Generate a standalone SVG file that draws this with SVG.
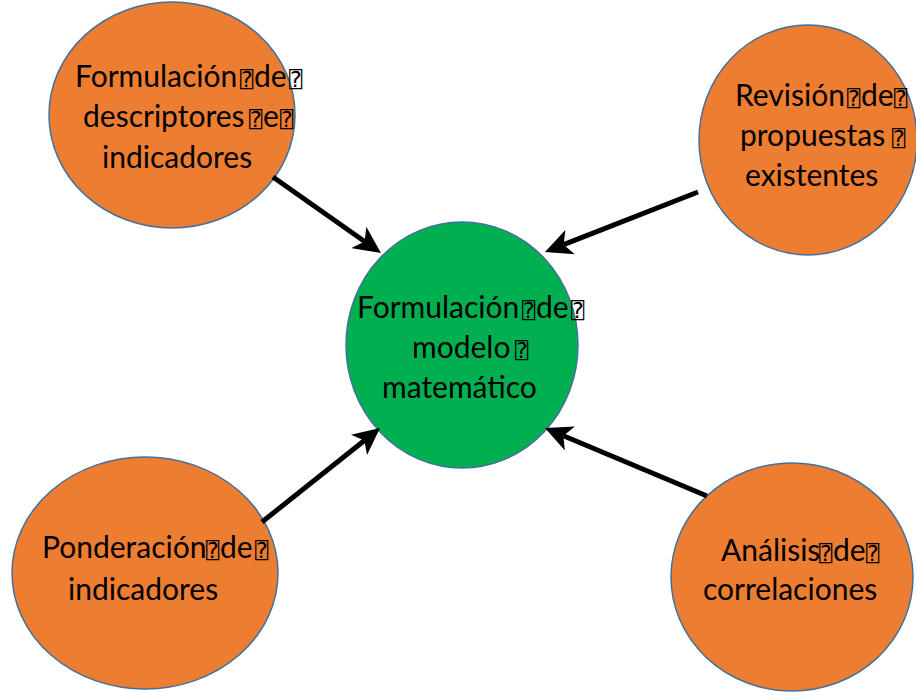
<svg xmlns="http://www.w3.org/2000/svg" width="916" height="692" viewBox="0 0 916 692">
  <style>
    .bubble { fill: #ED7D31; stroke: #41719C; stroke-width: 1.5; }
    .core { fill: #00B050; stroke: #41719C; stroke-width: 1.5; }
    .label { font-family: Lato, "Liberation Sans", sans-serif; font-size: 30px; fill: #000; }
    .q { font-family: "DejaVu Sans Mono", "DejaVu Sans", monospace; font-size: 22px; }
    .link { fill: none; stroke: #000; stroke-width: 5; }
  </style>
  <defs>
    <marker id="head" markerUnits="userSpaceOnUse" viewBox="0 0 27 26" markerWidth="27" markerHeight="26" refX="7" refY="13" orient="auto">
      <path d="M0,0 L27,13 L0,26 L7,13 Z" fill="#000"/>
    </marker>
  </defs>
  <rect width="916" height="692" fill="#fff"/>

  <g id="node-descriptores">
    <ellipse class="bubble" cx="172" cy="115" rx="123" ry="113"/>
    <text class="label" y="87"><tspan x="75">Formulación</tspan><tspan class="q" x="240">⍰</tspan><tspan x="254">de</tspan><tspan class="q" x="289">⍰</tspan></text>
    <text class="label" y="127"><tspan x="83">descriptores</tspan><tspan class="q" x="249">⍰</tspan><tspan x="263">e</tspan><tspan class="q" x="280">⍰</tspan></text>
    <text class="label" x="102" y="168">indicadores</text>
  </g>

  <g id="node-propuestas">
    <ellipse class="bubble" cx="808" cy="140" rx="109" ry="115"/>
    <text class="label" y="106"><tspan x="735">Revisión</tspan><tspan class="q" x="847">⍰</tspan><tspan x="861">de</tspan><tspan class="q" x="894">⍰</tspan></text>
    <text class="label" y="146"><tspan x="740">propuestas</tspan><tspan class="q" x="892">⍰</tspan></text>
    <text class="label" x="745" y="186">existentes</text>
  </g>

  <g id="node-modelo">
    <ellipse class="core" cx="462" cy="345" rx="116" ry="123"/>
    <text class="label" y="318"><tspan x="357">Formulación</tspan><tspan class="q" x="522">⍰</tspan><tspan x="536">de</tspan><tspan class="q" x="571">⍰</tspan></text>
    <text class="label" y="358"><tspan x="412">modelo</tspan><tspan class="q" x="515">⍰</tspan></text>
    <text class="label" x="382" y="398">matemático</text>
  </g>

  <g id="node-ponderacion">
    <ellipse class="bubble" cx="145" cy="573" rx="133" ry="116"/>
    <text class="label" y="558"><tspan x="42">Ponderación</tspan><tspan class="q" x="206">⍰</tspan><tspan x="220">de</tspan><tspan class="q" x="255">⍰</tspan></text>
    <text class="label" x="68" y="600">indicadores</text>
  </g>

  <g id="node-correlaciones">
    <ellipse class="bubble" cx="792" cy="577" rx="121" ry="114"/>
    <text class="label" y="561"><tspan x="721">Análisis</tspan><tspan class="q" x="819">⍰</tspan><tspan x="833">de</tspan><tspan class="q" x="866">⍰</tspan></text>
    <text class="label" x="703" y="600">correlaciones</text>
  </g>

  <g id="connectors">
    <path class="link" d="M273,177 L364.6,241.5" marker-end="url(#head)"/>
    <path class="link" d="M698,192 L563.6,244.7" marker-end="url(#head)"/>
    <path class="link" d="M262,522 L364.4,440.5" marker-end="url(#head)"/>
    <path class="link" d="M707,496 L563.4,435.7" marker-end="url(#head)"/>
  </g>
</svg>
